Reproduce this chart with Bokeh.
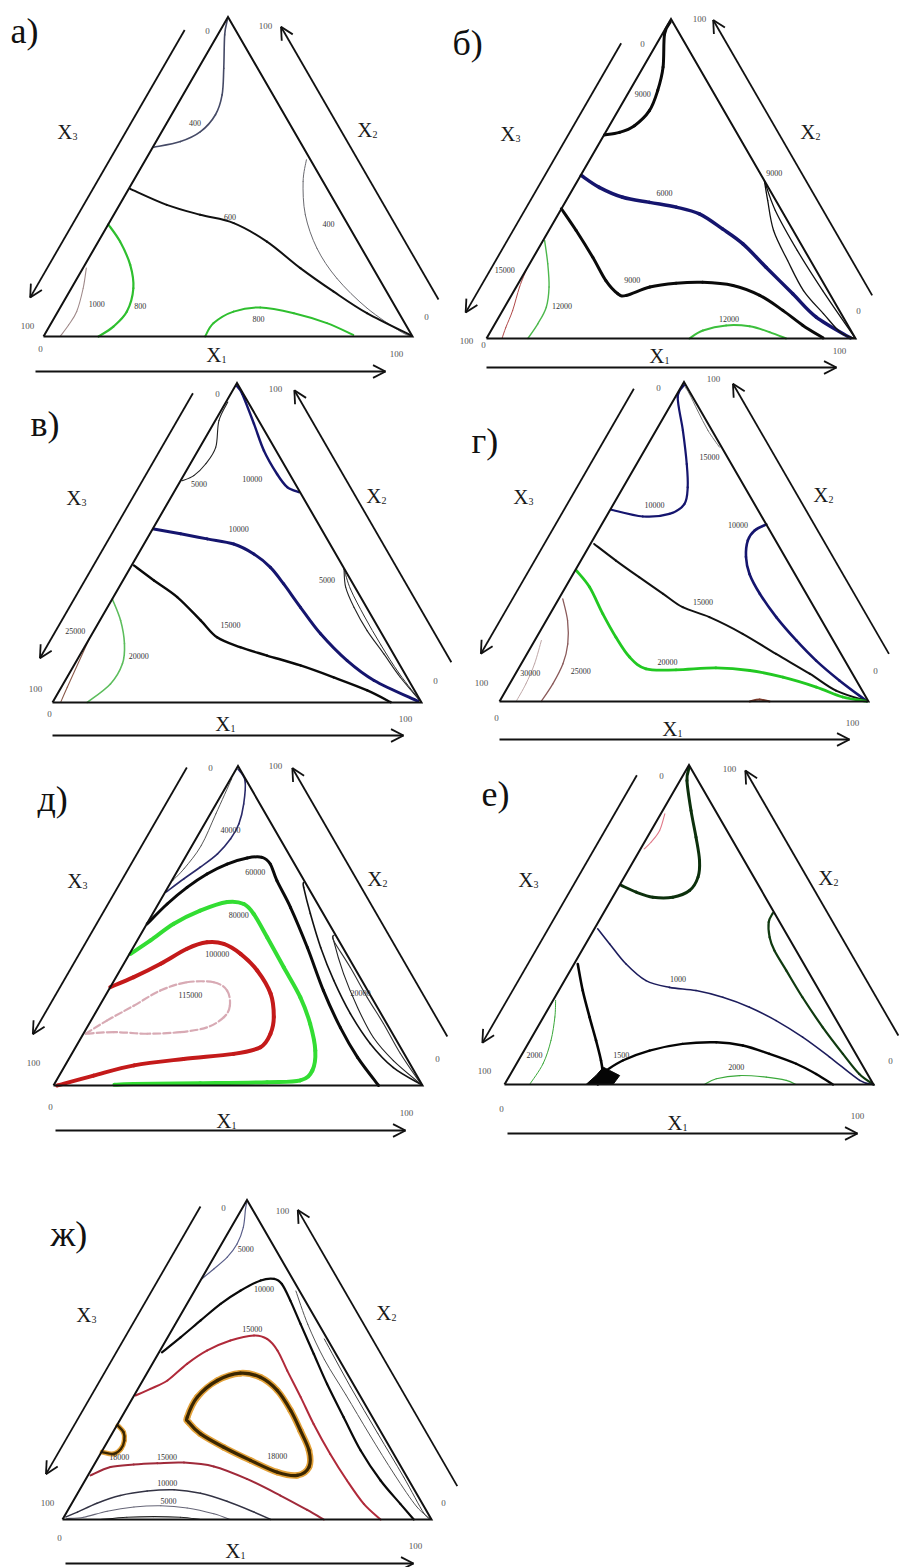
import math
from bokeh.plotting import figure
from bokeh.models import Range1d
from bokeh.embed import file_html
from bokeh.resources import INLINE
from bokeh.core.properties import value

# ---------------------------------------------------------------------------
# DATA: iso-lines, ternary coordinates (X1 %, X2 %), X3 = 100 - X1 - X2
# ---------------------------------------------------------------------------
# а)
A_400_TOP = [(0.3, 99), (1.9, 94.4), (6.9, 83.9), (10.6, 75.6), (11.9, 69.4), (10.5, 64.1), (6.6, 61.0), (0.3, 59.2)]
A_400_RIGHT = [(43.6, 55.3), (46.1, 48.5), (51.9, 38.1), (60.3, 27.6), (70.4, 18.2), (83.2, 8.9), (95.9, 1.6), (100, 0)]
A_600 = [(0.4, 46.2), (12.8, 41.2), (23.4, 38.1), (33.8, 35.5), (45.7, 29.7), (58.9, 21.4), (71.5, 14.1), (84.0, 7.3), (99.5, 0.3)]
A_800_LEFT = [(0, 35.1), (5.9, 29.7), (12.3, 22.4), (16.8, 15.1), (18.7, 7.8), (17.4, 3.1), (14.9, 0)]
A_1000 = [(0.9, 21.4), (3.2, 15.1), (5.1, 7.8), (5.0, 3.6), (4.5, 0)]
A_800_BOTTOM = [(43.8, 0), (44.0, 4.2), (47.6, 7.8), (54.2, 9.1), (64.2, 7.3), (74.7, 4.2), (83.7, 0.5)]
A_LABELS = [("400", 7.7, 66.7), ("400", 59.7, 35.1), ("600", 31.8, 37.5), ("800", 21.5, 9.4),
            ("1000", 9.4, 10.1), ("800", 55.5, 5.5)]

# б)
B_9000_TOP = [(0.3, 99), (0.6, 95.3), (5.4, 84.9), (7.6, 77.6), (8.5, 71.3), (6.8, 66.6), (3.8, 64.5), (0.1, 63.7)]
B_6000 = [(0.2, 51.0), (6.9, 47.3), (14.8, 44.2), (22.9, 42.6), (30.9, 41.1), (38.2, 39.0), (46.8, 34.3),
          (54.7, 29.6), (64.6, 22.3), (76.0, 14.0), (86.0, 6.7), (98.5, 0.2)]
B_9000_MID = [(0, 40.6), (7.4, 33.8), (16.1, 25.4), (23.3, 18.1), (28.6, 14.0), (31.2, 13.5), (36.2, 16.1),
              (42.7, 17.3), (49.8, 17.6), (58.5, 16.6), (67.3, 13.5), (75.9, 8.8), (83.7, 4.1), (91.1, 0.2)]
B_9000_RIGHT_A = [(50.6, 49.4), (54.6, 43.2), (60.9, 33.8), (69.4, 24.4), (78.4, 15.0), (87.4, 7.8), (95.0, 1.9), (100, 0)]
B_9000_RIGHT_B = [(50.6, 49.4), (58.3, 40.0), (70.5, 27.5), (83.6, 15.0), (100, 0)]
B_12000_LEFT = [(0.4, 30.7), (4.9, 23.4), (8.9, 16.1), (11.3, 9.8), (11.6, 4.6), (11.2, 0)]
B_15000 = [(0, 21.8), (0.9, 16.1), (2.7, 8.8), (3.5, 3.5), (4.2, 0)]
B_12000_BOTTOM = [(55.0, 0), (57.4, 2.5), (62.9, 4.1), (69.4, 3.8), (75.7, 2.0), (81.2, 0)]
B_LABELS = [("9000", 4.1, 76.5), ("6000", 25.5, 45.5), ("9000", 30.3, 18.4), ("9000", 52.1, 51.7),
            ("12000", 15.3, 10.3), ("15000", -5.8, 21.5), ("12000", 62.6, 6.2)]

# в)
V_5000_TOP = [(0.5, 94), (1.0, 88.2), (4.3, 79.9), (4.2, 74.7), (2.8, 71.0), (0.4, 69.4)]
V_10000_TOP = [(0.5, 99), (3.1, 96.6), (11.0, 87.2), (17.9, 78.8), (25.1, 71.5), (29.9, 67.4), (33.9, 65.8)]
V_10000_MID = [(0.3, 54.3), (8.3, 52.8), (16.3, 51.2), (24.3, 49.6), (31.3, 46.5), (37.9, 42.3), (44.1, 37.1),
               (52.3, 29.8), (61.9, 21.5), (73.3, 13.1), (83.7, 6.9), (98.8, 0.4)]
V_15000 = [(0.6, 42.9), (8.4, 38.2), (17.3, 33.0), (27.3, 25.7), (34.4, 20.4), (42.2, 17.3), (50.8, 14.7),
           (61.4, 11.6), (72.2, 7.9), (83.4, 3.8), (91.6, 0.1)]
V_5000_RIGHT_A = [(58.1, 41.8), (61.4, 36.1), (66.8, 29.8), (74.0, 22.5), (82.2, 15.2), (90.3, 7.9), (100, 0)]
V_5000_RIGHT_B = [(58.1, 41.8), (63.0, 35.5), (71.0, 27.0), (80.0, 18.0), (89.5, 9.0), (100, 0)]
V_20000 = [(0, 32.4), (5.6, 25.7), (10.3, 18.4), (12.9, 12.1), (12.8, 5.8), (9.4, 0)]
V_25000 = [(0, 19.9), (1.6, 4.8), (2.2, 0)]
V_LABELS = [("5000", 5.5, 68.4), ("10000", 19.1, 70.0), ("10000", 23.3, 54.3), ("15000", 36.2, 24.1),
            ("5000", 55.3, 38.2), ("20000", 16.0, 14.7), ("25000", -5.1, 22.5)]

# г)
G_10000_TOP = [(0.5, 99), (0.7, 95.2), (7.3, 84.8), (13.6, 74.3), (17.5, 67.0), (19.2, 61.8), (16.7, 58.7),
               (9.9, 57.9), (0.3, 60.0)]
G_15000_TOP = [(1.0, 98.5), (3.4, 96.2), (8.2, 91.0), (14.1, 84.8), (19.8, 79.6)]
G_10000_RIGHT = [(44.6, 55.4), (42.4, 53.5), (42.1, 50.4), (44.2, 45.2), (47.8, 39.9), (53.7, 33.7), (61.8, 26.4),
                 (70.9, 19.1), (79.4, 12.8), (88.8, 6.6), (99.5, 0.1)]
G_15000 = [(1.0, 49.3), (9.5, 44.1), (18.4, 38.9), (27.5, 33.7), (34.9, 29.5), (43.7, 26.4), (55.3, 21.2),
           (67.5, 14.9), (79.7, 8.7), (89.5, 3.4), (99.5, 0.1)]
G_20000 = [(0.3, 41.0), (6.5, 35.8), (14.3, 27.4), (21.5, 20.1), (28.3, 13.9), (34.6, 10.2), (42.9, 9.9),
           (53.4, 10.5), (63.0, 9.7), (73.0, 7.6), (83.6, 4.5), (92.3, 1.4), (99.5, 0.1)]
G_25000 = [(1.1, 32.1), (5.8, 25.3), (9.5, 18.0), (11.3, 11.8), (11.7, 5.5), (11.3, 0)]
G_30000 = [(1.8, 19.1), (3.6, 11.8), (4.4, 5.5), (4.5, 0)]
G_SPOT = [(67.8, 0), (70.2, 0.6), (73.2, 0)]
G_LABELS = [("10000", 11.2, 61.6), ("15000", 18.7, 76.4), ("10000", 37.1, 55.1), ("15000", 39.6, 31.1),
            ("20000", 39.4, 12.3), ("25000", 17.2, 9.7), ("30000", 3.9, 8.9)]

# д)
D_THIN_TOP = [(0.3, 96), (1.5, 85), (2.5, 75), (1.5, 68), (0.2, 64)]
D_40000 = [(0.5, 99), (4.2, 95.4), (7.5, 88.1), (9.3, 81.9), (9.4, 77.2), (8.2, 72.5), (5.6, 68.3), (3.0, 64.7), (0.2, 60.5)]
D_60000 = [(0.1, 50.6), (2.4, 56.8), (5.2, 62.0), (8.5, 66.2), (12.4, 69.3), (16.9, 71.2), (20.8, 71.4), (24.1, 69.3),
           (28.5, 64.1), (36.4, 55.7), (47.2, 43.2), (58.3, 29.7), (68.7, 18.1), (78.0, 8.8), (88.1, 0)]
D_80000 = [(0.3, 41.2), (3.6, 45.4), (7.3, 50.6), (12.4, 54.7), (18.4, 57.4), (23.2, 56.8), (27.4, 53.7), (34.7, 46.4),
           (43.9, 37.0), (53.1, 27.6), (59.9, 19.3), (65.5, 10.9), (67.8, 4.7), (66.1, 1.6), (57.4, 1.0), (39.4, 0.7),
           (21.5, 0.5), (16.4, 0.2)]
D_100000 = [(0, 30.8), (4.8, 33.9), (10.0, 38.1), (14.8, 42.8), (19.2, 44.8), (24.0, 44.3), (30.1, 41.2), (37.2, 36.0),
            (44.5, 28.7), (49.0, 21.4), (50.7, 16.2), (50.1, 12.0), (43.9, 9.9), (31.1, 8.3), (18.7, 6.3), (9.3, 3.1), (1.0, 0)]
D_115000 = [(0.6, 16.2), (4.3, 20.3), (9.3, 25.0), (14.1, 29.7), (20.0, 32.3), (27.3, 32.3), (32.2, 29.7), (35.3, 25.0),
            (35.5, 21.4), (32.5, 18.2), (26.0, 16.7), (17.3, 16.2), (8.0, 16.7), (0.9, 16.2)]
D_20000_A = [(36.0, 63.5), (36.8, 62.0), (42.7, 53.8), (50.8, 43.2), (59.5, 32.9), (69.2, 22.5), (79.3, 13.1), (89.3, 5.6), (99.5, 0.3)]
D_20000_B = [(52.5, 47.0), (53.2, 45.4), (61.1, 35.0), (70.2, 24.4), (79.2, 15.0), (88.2, 7.8), (99.5, 0.3)]
D_20000_C = [(52.5, 47.0), (53.2, 45.4), (62.0, 36.9), (71.3, 27.5), (79.7, 19.4), (89.0, 10.0), (99.5, 0.3)]
D_LABELS = [("40000", 8.1, 79.8), ("60000", 21.3, 66.7), ("80000", 23.6, 53.2), ("100000", 23.9, 41.0),
            ("115000", 23.0, 28.2), ("20000", 68.8, 28.8)]

# е)
E_PINK = [(1.1, 84.7), (2.3, 79.5), (1.8, 75.8), (1.0, 73.7)]
E_TOP = [(0.5, 99), (1.9, 95.1), (7.7, 85.7), (13.2, 77.4), (17.8, 70.1), (20.0, 64.9), (19.8, 60.7), (16.3, 58.6),
         (10.9, 58.6), (5.6, 60.2), (0.5, 62.3)]
E_RIGHT = [(45.9, 53.6), (46.2, 50.8), (48.8, 46.1), (52.2, 41.9), (58.5, 35.7), (67.1, 27.3), (77.3, 17.9),
           (86.9, 9.6), (94.5, 3.3), (100, 0)]
E_1000 = [(0.9, 48.7), (6.5, 44.0), (14.1, 37.7), (22.1, 32.5), (29.5, 30.4), (37.2, 29.4), (45.5, 27.3), (54.3, 24.2),
          (63.6, 20.0), (73.4, 14.8), (83.8, 8.6), (95.6, 1.3), (100, 0)]
E_1500_STEM = [(1.0, 37.7), (6.5, 29.4), (12.5, 21.1), (17.9, 13.8), (22.4, 7.5), (24.9, 3.3), (25.3, 0)]
E_1500_ARM = [(25.4, 4.4), (28.3, 7.5), (34.0, 10.6), (41.9, 12.7), (50.8, 13.2), (58.5, 12.2), (67.0, 9.6),
              (75.8, 6.5), (82.8, 3.3), (89.0, 0)]
E_1500_SPOT = [(22.1, 0), (23.4, 2.8), (24.1, 5.4), (26.3, 4.4), (29.8, 2.8), (29.4, 0)]
E_2000_LEFT = [(0.7, 26.3), (3.1, 21.1), (5.7, 13.8), (7.2, 6.5), (6.8, 0)]
E_2000_BOTTOM = [(54.2, 0), (56.5, 1.8), (62.3, 2.8), (69.8, 2.3), (75.7, 1.3), (79.0, 0)]
E_LABELS = [("1000", 30.5, 33.1), ("1500", 27.1, 9.1), ("2000", 3.6, 9.1), ("2000", 60.0, 5.6)]

# ж)
Z_5000_TOP = [(0.3, 99.3), (1.0, 97.2), (3.3, 91.4), (4.2, 86.2), (3.6, 82.1), (1.8, 78.4), (0.1, 75.3)]
Z_10000 = [(0.8, 52.3), (3.5, 57.0), (6.3, 62.3), (9.1, 67.5), (12.4, 71.6), (16.3, 74.8), (19.7, 75.3), (22.6, 73.7),
           (27.5, 68.5), (33.9, 61.2), (42.2, 51.8), (50.5, 42.4), (60.2, 32.0), (70.0, 21.6), (80.1, 12.2), (89.1, 4.9), (95.2, 0)]
Z_15000_TOP = [(0.4, 38.8), (3.4, 40.9), (6.7, 43.5), (9.4, 48.7), (12.8, 52.9), (17.5, 56.0), (23.1, 57.6), (27.2, 56.5),
               (31.8, 52.9), (37.6, 46.6), (45.4, 38.3), (53.1, 29.9), (62.3, 20.5), (71.0, 12.2), (79.2, 4.9), (86.2, 0)]
Z_15000_BOTTOM = [(0.7, 13.8), (4.8, 16.4), (10.7, 17.2), (16.9, 17.6), (24.0, 17.8), (32.7, 16.6), (43.6, 12.7),
                  (55.3, 7.5), (64.8, 3.0), (70.8, 0)]
Z_18000_LOOP = [(17.8, 32.0), (17.4, 38.3), (20.2, 43.5), (25.3, 45.8), (31.4, 44.5), (38.0, 40.4), (44.8, 34.1),
                (50.6, 27.8), (56.0, 21.6), (58.6, 16.4), (56.7, 13.8), (50.8, 14.8), (41.7, 18.5), (32.4, 22.6),
                (24.0, 26.8), (19.0, 30.4), (17.8, 32.0)]
Z_18000_SMALL = [(0.3, 29.4), (2.9, 27.3), (4.4, 24.7), (4.8, 22.1), (3.6, 20.5), (0.2, 21.1)]
Z_10000_BOTTOM = [(0.5, 0.8), (2.9, 2.3), (6.8, 5.1), (11.9, 7.5), (18.5, 8.9), (25.6, 9.3), (33.3, 8.2), (41.7, 5.7),
                  (50.8, 2.3), (56.4, 0)]
Z_5000_BOTTOM = [(1.0, 0.3), (5.4, 0.7), (10.8, 2.6), (17.4, 3.9), (24.5, 4.3), (32.0, 3.6), (40.1, 1.8), (45.5, 0)]
Z_BASE = [(10.3, 0), (17.1, 0.7), (24.3, 0.9), (31.6, 0.7), (37.4, 0)]
Z_RIGHT_A = [(27.5, 71.5), (36.0, 61.0), (46.0, 50.0), (57.3, 39.0), (70.0, 26.5), (83.0, 14.0), (94.0, 4.0), (100, 0)]
Z_RIGHT_B = [(42.7, 56.5), (57.3, 41.5), (71.9, 27.0), (85.8, 13.3), (96.9, 2.0), (100, 0)]
Z_LABELS = [("5000", 7.3, 84.7), ("10000", 18.5, 72.2), ("15000", 21.6, 59.6), ("15000", 18.5, 19.7),
            ("18000", 48.2, 20.0), ("18000", 5.6, 19.5), ("10000", 22.7, 11.4), ("5000", 25.9, 5.7)]

PANEL_NAMES = ["а)", "б)", "в)", "г)", "д)", "е)", "ж)"]
AXIS_TICKS = ["0", "100"]

# ---------------------------------------------------------------------------
# LAYOUT & STYLE
# ---------------------------------------------------------------------------
W, H = 899, 1567
S = 369.0
TH = S * math.sqrt(3) / 2
SERIF = value("Liberation Serif")

# o: bottom-left vertex on the page; t*: tick text spots (local px, y up): top0, top100, left100, right0
LAYOUT = [
    dict(o=(43, 336), off3=31, a3=(27, 336), off2=41, a2=(19, 334), y1=-35, x1r=(-8, 342), yl=-18, yt0=-12, yt1=-17,
         tt=((164, 306), (222, 311), (-16, 11), (383, 20)), letter=(10, 30)),
    dict(o=(486, 338), off3=31, a3=(12, 323), off2=36, a2=(29, 347), y1=-29, x1r=(0, 350), yl=-17, yt0=-6, yt1=-12,
         tt=((156, 295), (213, 320), (-20, -2), (372, 28)), letter=(452, 42)),
    dict(o=(52, 702), off3=33, a3=(32, 338), off2=46, a2=(20, 334), y1=-33, x1r=(0, 351), yl=-21, yt0=-11, yt1=-16,
         tt=((165, 309), (223, 314), (-17, 14), (383, 22)), letter=(30, 423)),
    dict(o=(499, 701), off3=40, a3=(32, 338), off2=41.5, a2=(31, 343), y1=-38, x1r=(0, 350), yl=-27, yt0=-16, yt1=-21,
         tt=((159, 314), (214, 323), (-18, 19), (376, 31)), letter=(471, 440)),
    dict(o=(53, 1085), off3=43.5, a3=(34, 342), off2=46, a2=(30, 340), y1=-45, x1r=(2, 352), yl=-35, yt0=-21, yt1=-27,
         tt=((157, 318), (222, 320), (-20, 23), (384, 27)), letter=(37, 798)),
    dict(o=(504, 1084), off3=40, a3=(25, 334), off2=46, a2=(30, 336), y1=-49, x1r=(3, 353), yl=-38, yt0=-24, yt1=-31,
         tt=((157, 309), (225, 316), (-20, 14), (386, 24)), letter=(481, 793)),
    dict(o=(62, 1519), off3=37, a3=(31, 340), off2=39, a2=(16, 335), y1=-44, x1r=(3, 351), yl=-31, yt0=-18, yt1=-26,
         tt=((161, 312), (220, 309), (-15, 17), (381, 17)), letter=(50, 1233)),
]

NAVY = "#15156e"
GREEN = "#2fbf2f"
CURVES = [
    [(A_400_TOP, "#454a66", 1.6, None), (A_400_RIGHT, "#6a6a70", 1.0, None), (A_600, "#111111", 2.0, None),
     (A_800_LEFT, GREEN, 2.2, None), (A_1000, "#a08a8a", 1.1, None), (A_800_BOTTOM, GREEN, 2.0, None)],
    [(B_9000_TOP, "#0a0a0a", 3.0, None), (B_6000, NAVY, 3.5, None), (B_9000_MID, "#0a0a0a", 3.0, None),
     (B_9000_RIGHT_A, "#111111", 1.3, None), (B_9000_RIGHT_B, "#111111", 1.3, None),
     (B_12000_LEFT, "#4cb84c", 1.4, None), (B_15000, "#b04848", 1.0, None), (B_12000_BOTTOM, "#3cbf3c", 2.0, None)],
    [(V_5000_TOP, "#222222", 1.1, None), (V_10000_TOP, NAVY, 2.4, None), (V_10000_MID, NAVY, 3.0, None),
     (V_15000, "#0a0a0a", 2.4, None), (V_5000_RIGHT_A, "#222222", 1.1, None), (V_5000_RIGHT_B, "#333333", 1.0, None),
     (V_20000, "#5cbd5c", 1.6, None), (V_25000, "#8a5a4a", 1.1, None)],
    [(G_10000_TOP, NAVY, 2.2, None), (G_15000_TOP, "#777777", 1.0, None), (G_10000_RIGHT, NAVY, 2.6, None),
     (G_15000, "#111111", 2.0, None), (G_20000, "#22c822", 2.8, None), (G_25000, "#8a5a5a", 1.3, None),
     (G_30000, "#c0a8a8", 1.0, None), (G_SPOT, "#7a3a2a", 2.0, None)],
    [(D_THIN_TOP, "#444444", 0.9, None), (D_40000, "#2a2a6a", 1.6, None), (D_60000, "#0a0a0a", 3.0, None),
     (D_80000, "#33dd33", 4.0, None), (D_100000, "#c41a1a", 4.0, None), (D_115000, "#d8aab4", 2.2, "7 3"),
     (D_20000_A, "#111111", 1.6, None), (D_20000_B, "#222222", 1.1, None), (D_20000_C, "#333333", 1.1, None)],
    [(E_PINK, "#e07888", 1.1, None), (E_TOP, "#0c300c", 3.0, None), (E_RIGHT, "#103a10", 2.2, None),
     (E_1000, "#1c1c5c", 1.6, None), (E_1500_STEM, "#050505", 2.6, None), (E_1500_ARM, "#050505", 2.4, None),
     (E_2000_LEFT, "#3aa83a", 1.0, None), (E_2000_BOTTOM, "#3aa83a", 1.2, None)],
    [(Z_5000_TOP, "#5a5f8a", 1.2, None), (Z_10000, "#0a0a0a", 2.2, None), (Z_15000_TOP, "#b02a3a", 2.0, None),
     (Z_15000_BOTTOM, "#a02a3a", 2.0, None), (Z_18000_LOOP, "#e3a23a", 6.5, None), (Z_18000_LOOP, "#3a2600", 3.2, None),
     (Z_18000_SMALL, "#e3a23a", 5.0, None), (Z_18000_SMALL, "#3a2600", 2.4, None),
     (Z_10000_BOTTOM, "#333344", 1.5, None), (Z_5000_BOTTOM, "#666677", 1.1, None), (Z_BASE, "#222222", 1.2, None),
     (Z_RIGHT_A, "#555555", 1.0, None), (Z_RIGHT_B, "#444444", 1.0, None)],
]
SPOTS = [[], [], [], [], [], [E_1500_SPOT], []]
LABELS = [A_LABELS, B_LABELS, V_LABELS, G_LABELS, D_LABELS, E_LABELS, Z_LABELS]

# ---------------------------------------------------------------------------
p = figure(width=W, height=H, x_range=Range1d(0, W), y_range=Range1d(H, 0),
           output_backend="svg", toolbar_location=None, min_border=0,
           x_axis_location=None, y_axis_location=None)
p.grid.visible = False
p.outline_line_color = None
p.background_fill_color = "white"
p.border_fill_color = "white"


def tern(o, pts):
    bx, by = o
    xs = [bx + S * (a + b / 2.0) / 100.0 for a, b in pts]
    ys = [by - TH * b / 100.0 for a, b in pts]
    return xs, ys


def smooth_curve(xs, ys, **kw):
    """Draw a smooth curve through the read points (Catmull-Rom as cubic Bezier glyphs)."""
    n = len(xs)
    closed = n > 3 and abs(xs[0] - xs[-1]) < 1e-6 and abs(ys[0] - ys[-1]) < 1e-6
    P = list(zip(xs, ys))
    if closed:
        P = P[:-1]
        m = len(P)
        get = lambda k: P[k % m]
        segs = range(m)
    else:
        m = len(P)
        get = lambda k: P[min(max(k, 0), m - 1)]
        segs = range(m - 1)
    x0, y0, x1, y1, cx0, cy0, cx1, cy1 = ([] for _ in range(8))
    for i in segs:
        p0, p1, p2, p3 = get(i - 1), get(i), get(i + 1), get(i + 2)
        x0.append(p1[0]); y0.append(p1[1]); x1.append(p2[0]); y1.append(p2[1])
        cx0.append(p1[0] + (p2[0] - p0[0]) / 6.0); cy0.append(p1[1] + (p2[1] - p0[1]) / 6.0)
        cx1.append(p2[0] - (p3[0] - p1[0]) / 6.0); cy1.append(p2[1] - (p3[1] - p1[1]) / 6.0)
    p.bezier(x0=x0, y0=y0, x1=x1, y1=y1, cx0=cx0, cy0=cy0, cx1=cx1, cy1=cy1, **kw)


def loc(o, lx, ly):
    return o[0] + lx, o[1] - ly


def arrow(x0, y0, x1, y1, head=14.0, ang=math.radians(27)):
    p.line([x0, x1], [y0, y1], line_color="#111111", line_width=1.8)
    dx, dy = x0 - x1, y0 - y1
    L = math.hypot(dx, dy)
    ux, uy = dx / L, dy / L
    for s in (1, -1):
        c, sn = math.cos(s * ang), math.sin(s * ang)
        hx, hy = ux * c - uy * sn, ux * sn + uy * c
        p.line([x1, x1 + head * hx], [y1, y1 + head * hy], line_color="#111111", line_width=1.8)


u3 = (0.5, math.sqrt(3) / 2)
n3 = (-math.sqrt(3) / 2, 0.5)
u2 = (-0.5, math.sqrt(3) / 2)
n2 = (math.sqrt(3) / 2, 0.5)

for i, L in enumerate(LAYOUT):
    o = L["o"]
    for pts, col, w, dash in CURVES[i]:
        xs, ys = tern(o, pts)
        kw = dict(line_color=col, line_width=w, line_cap="round")
        if dash:
            kw["line_dash"] = dash
        smooth_curve(xs, ys, **kw)
    for pts in SPOTS[i]:
        xs, ys = tern(o, pts)
        p.patch(xs, ys, fill_color="#050505", line_color="#050505", line_width=1)
    tx, ty = tern(o, [(0, 0), (100, 0), (0, 100), (0, 0)])
    p.line(tx, ty, line_color="#111111", line_width=2.0, line_join="miter")

    a_lo, a_hi = L["a3"]
    sx, sy = loc(o, a_hi * u3[0] + L["off3"] * n3[0], a_hi * u3[1] + L["off3"] * n3[1])
    ex, ey = loc(o, a_lo * u3[0] + L["off3"] * n3[0], a_lo * u3[1] + L["off3"] * n3[1])
    arrow(sx, sy, ex, ey)
    a_lo, a_hi = L["a2"]
    sx, sy = loc(o, S + a_lo * u2[0] + L["off2"] * n2[0], a_lo * u2[1] + L["off2"] * n2[1])
    ex, ey = loc(o, S + a_hi * u2[0] + L["off2"] * n2[0], a_hi * u2[1] + L["off2"] * n2[1])
    arrow(sx, sy, ex, ey)
    sx, sy = loc(o, L["x1r"][0], L["y1"])
    ex, ey = loc(o, L["x1r"][1], L["y1"])
    arrow(sx, sy, ex, ey)

    for (lx, ly), sub in [((27, 205), "3"), ((327, 207), "2"), ((176, L["yl"]), "1")]:
        cx, cy = loc(o, lx, ly)
        p.text([cx + 2], [cy], text=["X"], text_font=SERIF, text_font_size="21px",
               text_align="right", text_baseline="middle", text_color="#1a1a1a")
        p.text([cx + 2], [cy + 5], text=[sub], text_font=SERIF, text_font_size="10px",
               text_align="left", text_baseline="middle", text_color="#1a1a1a")

    t0T, t100T, t100L, t0R = L["tt"]
    tick_pos = [(t0T, AXIS_TICKS[0]), (t100T, AXIS_TICKS[1]), (t100L, AXIS_TICKS[1]),
                (t0R, AXIS_TICKS[0]), ((-3, L["yt0"]), AXIS_TICKS[0]), ((353, L["yt1"]), AXIS_TICKS[1])]
    txs, tys, tts = [], [], []
    for (lx, ly), t in tick_pos:
        x, y = loc(o, lx, ly)
        txs.append(x); tys.append(y); tts.append(t)
    p.text(txs, tys, text=tts, text_font=SERIF, text_font_size="9px", text_align="center",
           text_baseline="middle", text_color="#555555")

    lab = LABELS[i]
    lx, ly = tern(o, [(a, b) for _, a, b in lab])
    p.text(lx, ly, text=[t for t, _, _ in lab], text_font=SERIF, text_font_size="8px",
           text_align="center", text_baseline="middle", text_color="#333333")

    px_, py_ = L["letter"]
    p.text([px_], [py_], text=[PANEL_NAMES[i]], text_font=SERIF, text_font_size="36px",
           text_align="left", text_baseline="middle", text_color="#111111")

with open("out.html", "w", encoding="utf-8") as f:
    f.write(file_html(p, INLINE))
